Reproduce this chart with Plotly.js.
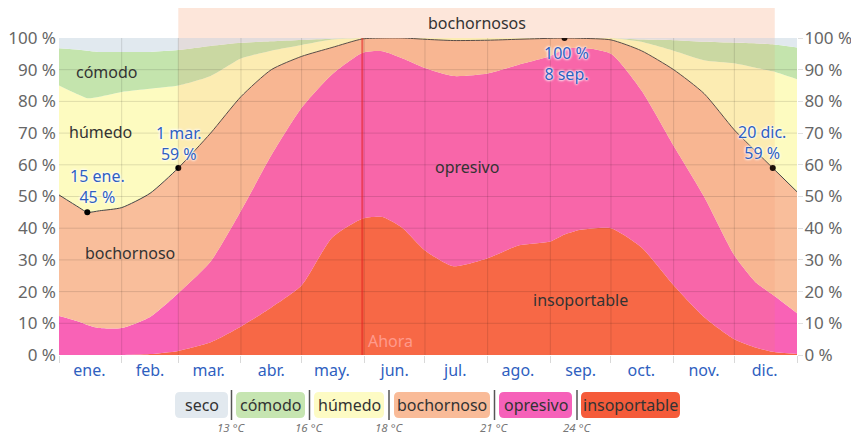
<!DOCTYPE html>
<html><head><meta charset="utf-8">
<script src="https://cdn.plot.ly/plotly-3.0.1.min.js"></script>
<style>
html,body{margin:0;padding:0;background:#fff;overflow:hidden}
#chart{width:851px;height:435px}
</style>
</head><body><div id="chart"></div>
<script>
// ---- data (day of year, cumulative % boundaries) ----
const days = [0,10,14,20,31,45,59,75,90,105,120,135,150,160,170,181,195,212,227,243,250,258,273,288,304,319,334,345,353,365];
const insoportableTop = [0,0,0,0,0,0.3,1.3,4,9,15,22,37,43,43.5,40,33,28,30.5,34.5,35.8,38,39.5,40,34,22,12,5,2.3,1,0.3];
const opresivoTop = [12.3,10.5,9.5,8.5,8.5,12,19.5,29.5,45.5,63,78,88.5,95.3,95.8,93.5,90.5,88,88.8,91.5,94.3,96.5,97,95,83.5,66,50,31.5,22.7,19,13.2];
const bochornosoTop = [50.5,46.5,45,45.5,46.5,51,59,70,81.5,90,94.2,97,99.7,100,100,99.6,99.2,99.3,99.6,99.9,100,99.9,99.4,96,90,82.5,71,64,59,51.5];
const humedoTop = [85,82,81,81.5,83,84,85,88,93.5,96,97.8,99.5,100,100,100,100,100,100,100,100,100,100,100,98.8,96,93,92,90.5,89.5,87];
const comodoTop = [96.8,96.3,96,95.6,95.6,95.6,96.2,97.5,98.5,99,99.4,99.8,100,100,100,100,100,100,100,100,100,100,100,99.5,99.3,98.8,98.5,98.3,98,97];
const secoTop = days.map(() => 100);

const highlightDays = [14, 59, 250, 353];
const highlightVals = [45, 59, 100, 59];
const highlightDates = ['15 ene.', '1 mar.', '8 sep.', '20 dic.'];

const muggyStart = 59, muggyEnd = 354;   // "bochornosos" period
const nowDay = 150;

const monthStarts = [0,31,59,90,120,151,181,212,243,273,304,334,365];
const monthMid = [15,45,74,105,135,166,196,227,258,288,319,349];
const monthNames = ['ene.','feb.','mar.','abr.','may.','jun.','jul.','ago.','sep.','oct.','nov.','dic.'];
const yTicks = [0,10,20,30,40,50,60,70,80,90,100];
const yTickText = yTicks.map(v => v + ' %');

const legendNames = ['seco','cómodo','húmedo','bochornoso','opresivo','insoportable'];
const legendColors = ['#e2e9ef','#c6e5b1','#fdfbc4','#f9bb98','#f661b9','#f55b3a'];
const thresholds = ['13 °C','16 °C','18 °C','21 °C','24 °C'];

// ---- styles ----
const C = {ins:'#f76545', opr:'#f962b6', boc:'#f9be9b', hum:'#fdfbc0', com:'#c4e4ad', sec:'#e1e9ef'};
const FONT = 'Noto Sans, Open Sans, sans-serif';
const BLUE = '#2f5fbf';

function area(y, color, fill){
  return {x: days, y: y, type:'scatter', mode:'lines', fill: fill, fillcolor: color,
          line:{width:0, color:color, shape:'spline', smoothing:0.6}, hoverinfo:'skip'};
}
const traces = [
  area(insoportableTop, C.ins, 'tozeroy'),
  area(opresivoTop, C.opr, 'tonexty'),
  area(bochornosoTop, C.boc, 'tonexty'),
  area(humedoTop, C.hum, 'tonexty'),
  area(comodoTop, C.com, 'tonexty'),
  area(secoTop, C.sec, 'tonexty'),
  {x: days, y: bochornosoTop, type:'scatter', mode:'lines', line:{width:1, color:'#444', shape:'spline', smoothing:0.6}, hoverinfo:'skip'},
  {x: highlightDays, y: highlightVals, type:'scatter', mode:'markers', marker:{size:6, color:'#000'}, hoverinfo:'skip'},
  {x: highlightDays, y: highlightVals, xaxis:'x2', yaxis:'y2', type:'scatter', mode:'markers', marker:{opacity:0}, hoverinfo:'skip'}
];

// pixel helpers for the legend strip below the plot
const L = 59, T = 38, W = 738, H = 317;
const PX = p => (p - L) / W;
const PY = p => (T + H - p) / H;
function rr(x0, x1, y0, y1, r){
  const X = PX, Y = PY;
  return `M${X(x0+r)},${Y(y0)} L${X(x1-r)},${Y(y0)} Q${X(x1)},${Y(y0)} ${X(x1)},${Y(y0+r)} ` +
         `L${X(x1)},${Y(y1-r)} Q${X(x1)},${Y(y1)} ${X(x1-r)},${Y(y1)} L${X(x0+r)},${Y(y1)} ` +
         `Q${X(x0)},${Y(y1)} ${X(x0)},${Y(y1-r)} L${X(x0)},${Y(y0+r)} Q${X(x0)},${Y(y0)} ${X(x0+r)},${Y(y0)} Z`;
}

const shapes = [];
// muggy-period band: strip above the plot + light tint over the plot
shapes.push({type:'rect', xref:'paper', yref:'paper', x0: muggyStart/365, x1: muggyEnd/365, y0:1, y1:1.095,
             fillcolor:'#fde6da', line:{width:0}, layer:'below'});
shapes.push({type:'rect', xref:'paper', yref:'paper', x0: muggyStart/365, x1: muggyEnd/365, y0:0, y1:1,
             fillcolor:'rgba(248,135,80,0.12)', line:{width:0}, layer:'above'});
// grid lines on top of fills
monthStarts.slice(1,-1).forEach(d => shapes.push({type:'line', xref:'x', yref:'y', x0:d, x1:d, y0:0, y1:100,
             line:{color:'rgba(0,0,0,0.12)', width:1}, layer:'above'}));
yTicks.slice(1,-1).forEach(v => shapes.push({type:'line', xref:'x', yref:'y', x0:0, x1:365, y0:v, y1:v,
             line:{color:'rgba(0,0,0,0.12)', width:1}, layer:'above'}));
// now line
shapes.push({type:'line', xref:'x', yref:'y', x0:nowDay, x1:nowDay, y0:0, y1:100,
             line:{color:'rgba(225,30,30,0.55)', width:2}, layer:'above'});

// legend boxes
const boxX = [[175,228],[236,305],[314,384],[394,490],[499,572],[581,680]];
const sepX = [231.5,309.5,389,494.5,577];
const annotations = [];
legendNames.forEach((n,i) => {
  shapes.push({type:'path', xref:'paper', yref:'paper', path: rr(boxX[i][0], boxX[i][1], 392, 418, 5),
               fillcolor: legendColors[i], line:{width:0}});
  annotations.push({xref:'paper', yref:'paper', x: PX((boxX[i][0]+boxX[i][1])/2), y: PY(405),
               text: n, showarrow:false, font:{family:FONT, size:16, color:'#333'}, xanchor:'center', yanchor:'middle'});
});
sepX.forEach((s,i) => {
  shapes.push({type:'line', xref:'paper', yref:'paper', x0:PX(s), x1:PX(s), y0:PY(390), y1:PY(420),
               line:{color:'#555', width:1.5}});
  annotations.push({xref:'paper', yref:'paper', x: PX(s), y: PY(427), text:'<i>'+thresholds[i]+'</i>',
               showarrow:false, font:{family:FONT, size:11.5, color:'#777'}, xanchor:'center', yanchor:'middle'});
});

// region labels
const lab = (t, d, v, extra) => Object.assign({xref:'x', yref:'y', x:d, y:v, text:t, showarrow:false,
               font:{family:FONT, size:16, color:'#333'}, xanchor:'center', yanchor:'middle'}, extra||{});
annotations.push(lab('cómodo', 23.7, 89.3));
annotations.push(lab('húmedo', 20.3, 70.3));
annotations.push(lab('bochornoso', 35, 32.2));
annotations.push(lab('opresivo', 202, 59.3));
annotations.push(lab('insoportable', 258, 17.4));
annotations.push(lab('Ahora', 164, 4.4, {font:{family:FONT, size:16, color:'#ff9a8c'}}));
annotations.push({xref:'paper', yref:'paper', x:PX(477), y:PY(23), text:'bochornosos', showarrow:false,
               font:{family:FONT, size:16, color:'#333'}, xanchor:'center', yanchor:'middle'});

// highlight labels
const shifts = [[10,25.5],[1,24.5],[2,-25.5],[-11,25]];
highlightDays.forEach((d,i) => {
  const pct = highlightVals[i] + ' %';
  const txt = i === 2 ? pct + '<br>' + highlightDates[i] : highlightDates[i] + '<br>' + pct;
  annotations.push({xref:'x', yref:'y', x:d, y:highlightVals[i], text:txt, showarrow:false,
     xshift:shifts[i][0], yshift:shifts[i][1], xanchor:'center', yanchor:'middle', align:'center',
     font:{family:FONT, size:16, color:BLUE, shadow:'0 0 3px #fff, 0 0 3px #fff, 0 0 2px #fff'}});
});

const tickFont = {family:FONT, size:17, color:'#666'};
const layout = {
  width:851, height:435,
  margin:{l:L, r:54, t:T, b:80, pad:0},
  paper_bgcolor:'#fff', plot_bgcolor:'#fff',
  showlegend:false,
  font:{family:FONT},
  xaxis:{range:[0,365], tickmode:'array', tickvals:monthStarts, showticklabels:false, ticks:'outside', ticklen:7,
         tickcolor:'rgba(0,0,0,0.15)', showgrid:false, zeroline:false, showline:false, fixedrange:true},
  xaxis2:{overlaying:'x', anchor:'y', side:'bottom', range:[0,365], tickmode:'array', tickvals:monthMid, ticktext:monthNames,
         showgrid:false, zeroline:false, ticks:'', ticklabelstandoff:4, tickfont:{family:FONT, size:16, color:BLUE}, fixedrange:true},
  yaxis:{range:[0,100], tickmode:'array', tickvals:yTicks, ticktext:yTickText, showgrid:false, zeroline:false,
         ticks:'', ticklabelstandoff:2, tickfont:tickFont, fixedrange:true},
  yaxis2:{overlaying:'y', side:'right', anchor:'x', range:[0,100], tickmode:'array', tickvals:yTicks, ticktext:yTickText,
         showgrid:false, zeroline:false, ticks:'outside', ticklen:5, ticklabelstandoff:-2, tickcolor:'rgba(0,0,0,0.12)', tickfont:tickFont, fixedrange:true},
  shapes: shapes,
  annotations: annotations
};
Plotly.newPlot('chart', traces, layout, {displayModeBar:false, staticPlot:true});
</script>
</body></html>
